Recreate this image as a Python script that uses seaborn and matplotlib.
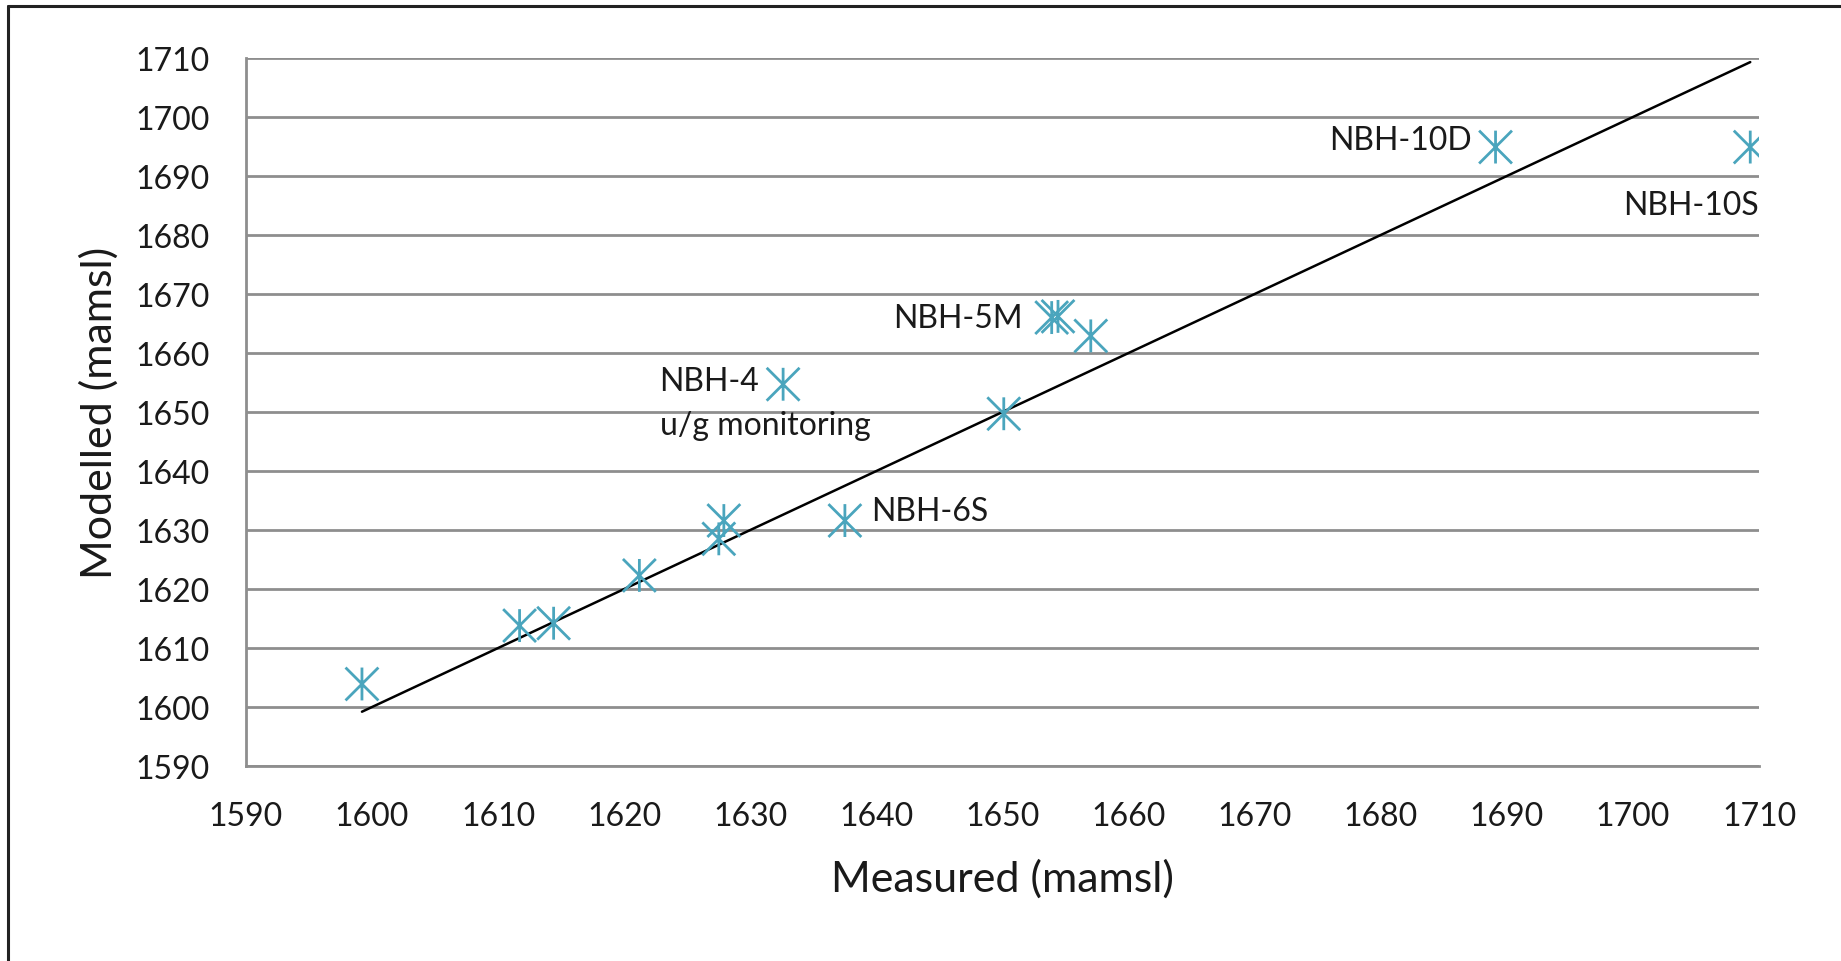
import numpy as np
import pandas as pd
import matplotlib
matplotlib.use("Agg")
import matplotlib.pyplot as plt
from matplotlib.path import Path
from matplotlib.lines import Line2D
import seaborn as sns

# Groundwater levels: measured vs modelled (metres above mean sea level)
measured = [1599.2, 1611.7, 1614.4, 1621.2, 1627.5, 1627.9, 1632.6, 1637.5,
            1650.1, 1653.9, 1654.4, 1657.0, 1689.1, 1709.3]
modelled = [1603.9, 1613.8, 1614.2, 1622.3, 1628.5, 1631.6, 1654.7, 1631.6,
            1649.7, 1666.0, 1666.2, 1662.9, 1694.9, 1694.9]

# Labelled boreholes: (name, index into the arrays above)
labels = ["NBH-4", "u/g monitoring", "NBH-6S", "NBH-5M", "NBH-10D", "NBH-10S"]
label_idx = [6, 6, 7, 9, 12, 13]

axis_ticks = list(range(1590, 1711, 10))

sns.set_theme(style="white")
plt.rcParams["font.family"] = ["Lato", "DejaVu Sans"]

df = pd.DataFrame({"Measured": measured, "Modelled": modelled})

fig = plt.figure(figsize=(18.41, 9.62), dpi=100)
ax = fig.add_axes([0.1336, 0.2027, 0.9555 - 0.1336, 0.9387 - 0.2027])

marker_col = "#4AA5BD"
grid_col = "#8E8E8E"
text_col = "#1a1a1a"

# asterisk marker: vertical bar plus two diagonals
star = Path([(0, -1), (0, 1), (-1, -1), (1, 1), (-1, 1), (1, -1)],
            [Path.MOVETO, Path.LINETO, Path.MOVETO, Path.LINETO, Path.MOVETO, Path.LINETO])

# 1:1 line across the measured range
lo, hi = min(measured), max(measured)
sns.lineplot(x=[lo, hi], y=[lo, hi], ax=ax, color="black", linewidth=1.8, zorder=3)

sns.scatterplot(data=df, x="Measured", y="Modelled", ax=ax, marker=star, s=560,
                facecolor="none", edgecolor=marker_col, linewidth=2.0, zorder=4)

ax.set_xlim(1590, 1710)
ax.set_ylim(1590, 1710)
ax.set_xticks(axis_ticks)
ax.set_yticks(axis_ticks)
ax.tick_params(axis="both", length=0, labelsize=23, colors=text_col)
ax.tick_params(axis="y", pad=26)
ax.tick_params(axis="x", pad=25)

ax.yaxis.grid(True, color=grid_col, linewidth=2.0)
ax.xaxis.grid(False)
ax.set_axisbelow(True)
for side in ["top", "right"]:
    ax.spines[side].set_visible(False)
for side in ["left", "bottom"]:
    ax.spines[side].set_color(grid_col)
    ax.spines[side].set_linewidth(2.0)

ax.set_xlabel("Measured (mamsl)", fontsize=31, color=text_col, labelpad=20)
ax.set_ylabel("Modelled (mamsl)", fontsize=31, color=text_col, labelpad=12)

# label offsets in points relative to each marker
offsets = {
    "NBH-4": ((-89, 2), "left", "center"),
    "u/g monitoring": ((-89, -29), "left", "center"),
    "NBH-6S": ((19, 7), "left", "center"),
    "NBH-5M": ((-21, 0), "right", "center"),
    "NBH-10D": ((-17, 5), "right", "center"),
    "NBH-10S": ((6, -42), "right", "center"),
}
for name, i in zip(labels, label_idx):
    (dx, dy), ha, va = offsets[name]
    ax.annotate(name, (measured[i], modelled[i]), xytext=(dx, dy),
                textcoords="offset points", ha=ha, va=va, fontsize=23,
                color=text_col)

# outer frame (top and left edges)
fig.add_artist(Line2D([0.0041, 0.0041], [0, 0.9927], transform=fig.transFigure,
                      color="#222222", linewidth=2.2))
fig.add_artist(Line2D([0.0041, 1.0], [0.9927, 0.9927], transform=fig.transFigure,
                      color="#222222", linewidth=2.2))

fig.savefig("out.png", dpi=100, facecolor="white")
